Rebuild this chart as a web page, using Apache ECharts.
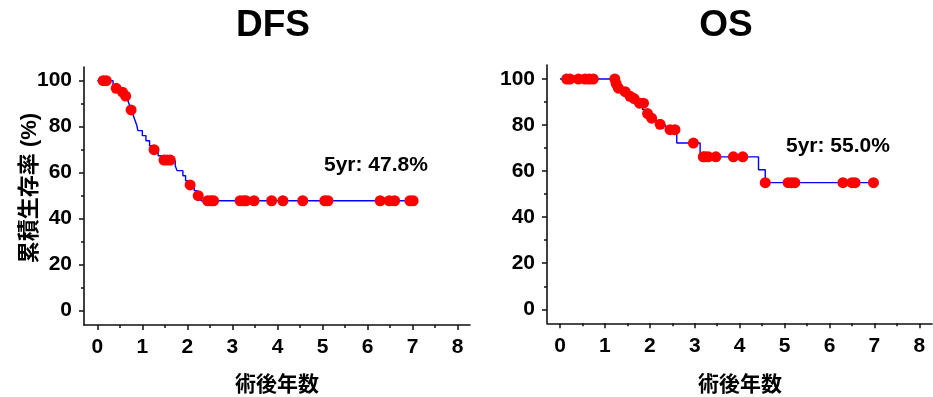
<!DOCTYPE html>
<html>
<head>
<meta charset="utf-8">
<script src="https://cdn.jsdelivr.net/npm/echarts@6/dist/echarts.min.js"></script>
<style>
  html, body { margin: 0; padding: 0; background: #fff; }
  #chart { width: 933px; height: 397px; }
</style>
</head>
<body>
<div id="chart"></div>
<script>
// Kaplan-Meier step curves: [years, survival %] at each drop
const dfsSteps = [
  [0, 100], [0.35, 97.8], [0.5, 95.7], [0.6, 93.5], [0.68, 91.3], [0.72, 89.1],
  [0.75, 87.0], [0.8, 84.8], [0.84, 82.6], [0.88, 80.4], [0.9, 78.3], [1.0, 76.1],
  [1.08, 73.9], [1.16, 71.7], [1.24, 69.6], [1.35, 67.4], [1.45, 65.2], [1.73, 63.0],
  [1.77, 60.9], [1.9, 58.7], [1.96, 56.5], [2.05, 54.3], [2.15, 52.2], [2.22, 50.0],
  [2.3, 47.8], [7.01, 47.8]
];
// Marks along the DFS curve
const dfsMarks = [
  [0.13, 100], [0.2, 100], [0.42, 96.7], [0.56, 95.0], [0.63, 93.3], [0.75, 87.3],
  [1.26, 70.0], [1.48, 65.5], [1.55, 65.5], [1.62, 65.5], [2.06, 54.7], [2.24, 50.0],
  [2.45, 47.8], [2.52, 47.8], [2.58, 47.8], [3.17, 47.8], [3.25, 47.8], [3.3, 47.8],
  [3.48, 47.8], [3.87, 47.8], [4.12, 47.8], [4.56, 47.8], [5.05, 47.8], [5.12, 47.8],
  [6.28, 47.8], [6.48, 47.8], [6.6, 47.8], [6.94, 47.8], [7.01, 47.8]
];
const osSteps = [
  [0, 100], [1.23, 97.8], [1.3, 95.6], [1.42, 93.3], [1.53, 91.1], [1.7, 88.9],
  [1.84, 86.7], [1.93, 84.4], [2.0, 82.2], [2.15, 80.0], [2.35, 77.8], [2.6, 72.2],
  [3.12, 66.2], [4.42, 60.6], [4.57, 55.0], [6.98, 55.0]
];
const osMarks = [
  [0.15, 100], [0.22, 100], [0.41, 100], [0.56, 100], [0.65, 100], [0.74, 100],
  [1.22, 100], [1.25, 98.0], [1.3, 96.0], [1.45, 94.5], [1.56, 92.5], [1.65, 91.5],
  [1.77, 89.5], [1.86, 89.5], [1.95, 85.0], [2.04, 83.0], [2.23, 80.3], [2.45, 78.0],
  [2.56, 78.0], [2.97, 72.2], [3.19, 66.2], [3.23, 66.2], [3.3, 66.2], [3.47, 66.2],
  [3.86, 66.2], [4.07, 66.2], [4.57, 55.0], [5.08, 55.0], [5.16, 55.0], [5.23, 55.0],
  [6.3, 55.0], [6.5, 55.0], [6.57, 55.0], [6.98, 55.0]
];
const panelTitles = ['DFS', 'OS'];
const fiveYearLabels = ['5yr: 47.8%', '5yr: 55.0%'];
const xTicks = { min: 0, max: 8, interval: 1 };
const yTicks = { min: 0, max: 100, interval: 20 };
const xName = '術後年数';
const yName = '累積生存率 (%)';

const FONT = '"Liberation Sans", Arial, "Noto Sans CJK JP", sans-serif';
const ink = '#111';

// Outer frame grids carry the axis lines; inner grids carry scales, ticks and data
const grids = [
  { left: 84, top: 67, width: 386, height: 258 },
  { left: 97.3, top: 80.7, width: 360.4, height: 230 },
  { left: 547, top: 65, width: 385, height: 258.3 },
  { left: 560, top: 79, width: 359.3, height: 230.3 }
];

function frameAxis(gi) {
  return {
    type: 'value', gridIndex: gi, min: 0, max: 1,
    axisLine: { show: true, onZero: false, lineStyle: { color: ink, width: 1.6 } },
    axisTick: { show: false }, axisLabel: { show: false }, splitLine: { show: false }
  };
}
function scaleAxis(gi, offset, ticks) {
  return {
    type: 'value', gridIndex: gi, min: ticks.min, max: ticks.max, interval: ticks.interval,
    offset: offset,
    axisLine: { show: false, onZero: false },
    axisTick: { show: true, length: 5, lineStyle: { color: ink, width: 1.5 } },
    minorTick: { show: true, splitNumber: 2, length: 3, lineStyle: { color: ink, width: 1.5 } },
    axisLabel: { margin: 12, color: '#000', fontSize: 21, fontWeight: 'bold', fontFamily: FONT },
    splitLine: { show: false }
  };
}

function curve(xi, steps) {
  return {
    type: 'line', xAxisIndex: xi, yAxisIndex: xi, data: steps, step: 'end',
    showSymbol: false, clip: false, silent: true,
    lineStyle: { color: '#0000ff', width: 1.4 }, z: 2
  };
}
function marks(xi, pts) {
  return {
    type: 'scatter', xAxisIndex: xi, yAxisIndex: xi, data: pts, clip: false,
    symbol: 'circle', symbolSize: 11, itemStyle: { color: '#ff0000', opacity: 1 }, z: 3
  };
}

const textStyle = (size) => ({ fill: '#000', font: 'bold ' + size + 'px ' + FONT });

const option = {
  animation: false,
  backgroundColor: '#fff',
  grid: grids,
  xAxis: [frameAxis(0), scaleAxis(1, 14.3, xTicks), frameAxis(2), scaleAxis(3, 14, xTicks)],
  yAxis: [frameAxis(0), scaleAxis(1, 13.3, yTicks), frameAxis(2), scaleAxis(3, 13, yTicks)],
  series: [
    curve(1, dfsSteps), marks(1, dfsMarks),
    curve(3, osSteps), marks(3, osMarks)
  ],
  graphic: [
    { type: 'text', x: 273, y: 26, style: Object.assign(textStyle(37), { text: panelTitles[0], textAlign: 'center', textVerticalAlign: 'middle' }) },
    { type: 'text', x: 726, y: 26, style: Object.assign(textStyle(37), { text: panelTitles[1], textAlign: 'center', textVerticalAlign: 'middle' }) },
    { type: 'text', x: 324, y: 165, style: Object.assign(textStyle(21), { text: fiveYearLabels[0], textAlign: 'left', textVerticalAlign: 'middle' }) },
    { type: 'text', x: 786, y: 146, style: Object.assign(textStyle(21), { text: fiveYearLabels[1], textAlign: 'left', textVerticalAlign: 'middle' }) },
    { type: 'text', x: 277, y: 385, style: Object.assign(textStyle(21), { text: xName, textAlign: 'center', textVerticalAlign: 'middle' }) },
    { type: 'text', x: 740, y: 385, style: Object.assign(textStyle(21), { text: xName, textAlign: 'center', textVerticalAlign: 'middle' }) },
    { type: 'text', x: 30, y: 188, rotation: Math.PI / 2, style: Object.assign(textStyle(22), { text: yName, textAlign: 'center', textVerticalAlign: 'middle' }) }
  ]
};

const chart = echarts.init(document.getElementById('chart'), null, { renderer: 'canvas' });
chart.setOption(option);
</script>
</body>
</html>
